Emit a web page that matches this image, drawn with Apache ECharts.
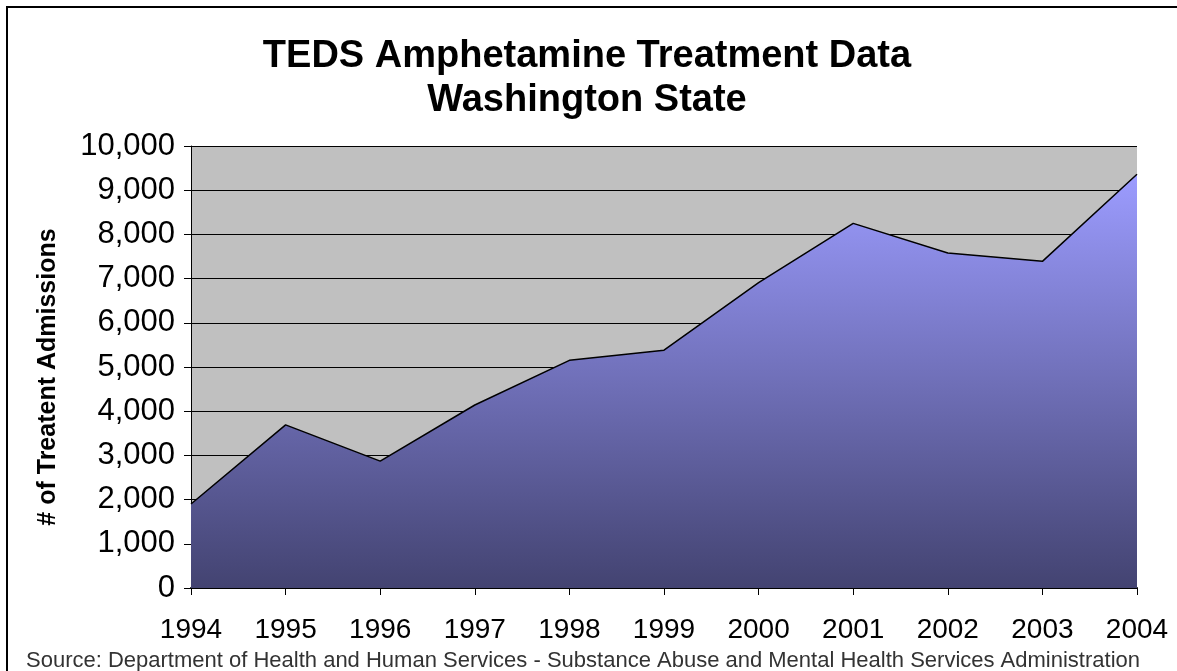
<!DOCTYPE html>
<html><head><meta charset="utf-8">
<script src="https://cdn.jsdelivr.net/npm/echarts@6/dist/echarts.min.js"></script>
<style>html,body{margin:0;padding:0;background:#fff}#c{width:1177px;height:671px}</style>
</head><body><div id="c"></div>
<script>
const years = ['1994','1995','1996','1997','1998','1999','2000','2001','2002','2003','2004'];
const admissions = [1900, 3690, 2870, 4140, 5150, 5380, 6910, 8250, 7580, 7390, 9360];
const titleLines = ['TEDS Amphetamine Treatment Data', 'Washington State'];
const yAxisTitle = '# of Treatent Admissions';
const sourceText = 'Source: Department of Health and Human Services - Substance Abuse and Mental Health Services Administration';

const chart = echarts.init(document.getElementById('c'), null, {renderer: 'canvas'});
chart.setOption({
  animation: false,
  backgroundColor: '#ffffff',
  title: {
    text: titleLines.join('\n'),
    left: 582, top: 30, textAlign: 'center',
    textStyle: {fontFamily: 'Liberation Sans, Arial', fontWeight: 'bold', fontSize: 38, lineHeight: 44, color: '#000'}
  },
  graphic: [
    {type: 'rect', shape: {x: 7, y: 7, width: 1250, height: 750}, style: {fill: 'none', stroke: '#000', lineWidth: 2}, silent: true},
    {type: 'text', x: 583, y: 661, style: {text: sourceText, font: '22px "Liberation Sans", Arial', fill: '#333', align: 'center', verticalAlign: 'middle'}},
    {type: 'text', x: 48, y: 377, rotation: Math.PI / 2,
      style: {text: yAxisTitle, font: 'bold 25px "Liberation Sans", Arial', fill: '#000', align: 'center', verticalAlign: 'middle'}}
  ],
  grid: {left: 191, right: 40, top: 146, bottom: 83, show: true, backgroundColor: '#c0c0c0', borderWidth: 0},
  xAxis: {
    type: 'category', data: years, boundaryGap: false,
    axisLine: {show: true, lineStyle: {color: '#000', width: 2}},
    axisTick: {show: true, length: 7, lineStyle: {color: '#000'}},
    axisLabel: {fontFamily: 'Liberation Sans, Arial', fontSize: 28, color: '#000', margin: 28},
    splitLine: {show: false}
  },
  yAxis: {
    type: 'value', min: 0, max: 10000, interval: 1000,
    axisLine: {show: true, lineStyle: {color: '#000', width: 1}},
    axisTick: {show: true, length: 7, lineStyle: {color: '#000'}},
    axisLabel: {fontFamily: 'Liberation Sans, Arial', fontSize: 31, color: '#000', margin: 16,
      formatter: v => v.toLocaleString('en-US')},
    splitLine: {show: true, lineStyle: {color: '#000', width: 1}}
  },
  series: [{
    type: 'line', data: admissions, symbol: 'none',
    lineStyle: {color: '#000', width: 1.5},
    areaStyle: {opacity: 1, color: new echarts.graphic.LinearGradient(0, 0, 0, 1, [
      {offset: 0, color: '#9c9cff'}, {offset: 1, color: '#434371'}])}
  }]
});
</script></body></html>
